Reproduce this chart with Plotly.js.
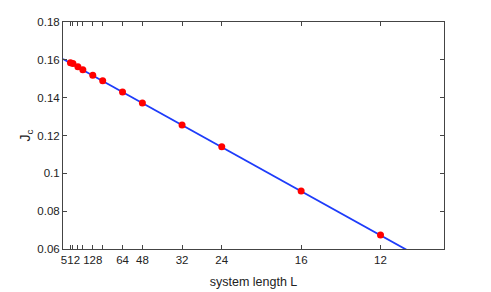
<!DOCTYPE html>
<html>
<head>
<meta charset="utf-8">
<script src="https://cdn.plot.ly/plotly-3.0.1.min.js"></script>
<style>html,body{margin:0;padding:0;background:#fff;}#chart{width:491px;height:292px;}</style>
</head>
<body>
<div id="chart"></div>
<script>
// System lengths L and critical coupling J_c (x axis is 1/L)
const systemLengths = [512, 384, 256, 192, 128, 96, 64, 48, 32, 24, 16, 12];
const jcValues = [0.1585, 0.1580, 0.1564, 0.1548, 0.1518, 0.1490, 0.1430, 0.1372, 0.1256, 0.1141, 0.0907, 0.0674];
// Linear fit line (in 1/L)
const fitInvL = [0, 0.1];
const fitJc = [0.1604, 0.0486];
// Labelled tick marks (L values) and unlabelled ones
const tickLengths = [512, 128, 64, 48, 32, 24, 16, 12];
const tickLabels = ['512', '128', '64', '48', '32', '24', '16', '12'];
const minorTickLengths = [384, 256, 192, 96];
const yTicks = [0.06, 0.08, 0.10, 0.12, 0.14, 0.16, 0.18];
const yTickLabels = ['0.06', '0.08', '0.1', '0.12', '0.14', '0.16', '0.18'];

const invL = systemLengths.map(L => 1 / L);
const tickVals = tickLengths.map(L => 1 / L);
const minorVals = minorTickLengths.map(L => 1 / L);

const font = {family: 'Liberation Sans, Arial, sans-serif', size: 11.5, color: '#222'};

const traces = [
  {x: fitInvL, y: fitJc, mode: 'lines', line: {color: 'rgb(30,60,250)', width: 1.8}, hoverinfo: 'skip', showlegend: false},
  {x: invL, y: jcValues, mode: 'markers', marker: {color: 'rgb(255,0,0)', size: 7}, showlegend: false}
];

const axisCommon = {
  showgrid: false, zeroline: false, showline: true, mirror: 'ticks',
  linecolor: '#444', linewidth: 1, ticks: 'inside', ticklen: 4, tickcolor: '#444',
  tickfont: font
};

const layout = {
  width: 491, height: 292,
  margin: {l: 63, r: 47, t: 22, b: 43},
  paper_bgcolor: '#fff', plot_bgcolor: '#fff',
  font: font,
  xaxis: Object.assign({}, axisCommon, {
    range: [0, 0.1], tickmode: 'array', tickvals: tickVals, ticktext: tickLabels,
    minor: {tickmode: 'array', tickvals: minorVals, ticks: 'inside', ticklen: 4, tickcolor: '#444', showgrid: false},
    title: {text: 'system length L', font: {family: font.family, size: 12.5, color: '#222'}, standoff: 12}
  }),
  yaxis: Object.assign({}, axisCommon, {
    range: [0.06, 0.18], tickmode: 'array', tickvals: yTicks, ticktext: yTickLabels,
    title: {text: 'J<sub>c</sub>', font: {family: font.family, size: 14, color: '#222'}, standoff: 3}
  })
};

Plotly.newPlot('chart', traces, layout, {displayModeBar: false, staticPlot: true});
</script>
</body>
</html>
